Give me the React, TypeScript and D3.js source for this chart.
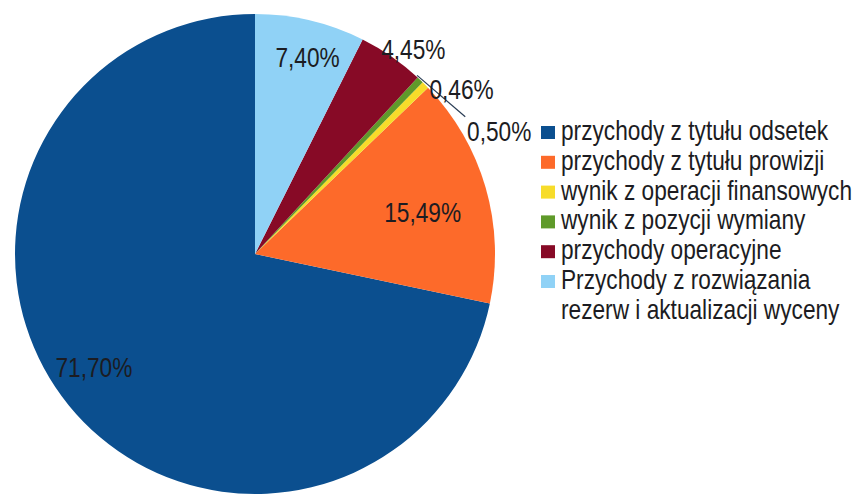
import React from "react";
import * as d3 from "d3";

const categories = [
  "przychody z tytułu odsetek",
  "przychody z tytułu prowizji",
  "wynik z operacji finansowych",
  "wynik z pozycji wymiany",
  "przychody operacyjne",
  "Przychody z rozwiązania rezerw i aktualizacji wyceny",
];
const values = [71.7, 15.49, 0.5, 0.46, 4.45, 7.4];
const colors = ["#0b4f8f", "#fd6a2a", "#f7dc2a", "#5f9a2a", "#870a26", "#90d2f6"];
const legendLines = [
  ["przychody z tytułu odsetek"],
  ["przychody z tytułu prowizji"],
  ["wynik z operacji finansowych"],
  ["wynik z pozycji wymiany"],
  ["przychody operacyjne"],
  ["Przychody z rozwiązania", "rezerw i aktualizacji wyceny"],
];

// label placement (layout, not data): radial factor and angular nudge in degrees
const labelLayout = [
  { k: 0.82, da: 4 },
  { k: 0.72, da: 2 },
  { k: 1.14, da: 18, leader: true },
  { k: 1.1, da: 8 },
  { k: 1.08, da: 3 },
  { k: 0.85, da: 1.6 },
];

const W = 860;
const H = 495;
const cx = 255;
const cy = 254;
const R = 240;
const FONT = "'Liberation Sans', Arial, sans-serif";
const FS = 28;
const SX = 0.81;

const fmt = (v: number) => d3.format(".2f")(v).replace(".", ",") + "%";

export default function App() {
  const pie = d3
    .pie<number>()
    .sort(null)
    .value((d) => d)
    .startAngle(0)
    .endAngle(-2 * Math.PI);
  const arcs = pie(values);
  const arc = d3.arc<d3.PieArcDatum<number>>().innerRadius(0).outerRadius(R);
  const polar = (a: number, r: number) => [r * Math.sin(a), -r * Math.cos(a)];

  const legendX = 541;
  const legendY0 = 140;
  const rowH = 29.8;
  let row = 0;

  return (
    <div style={{ position: "absolute", left: 0, top: 0 }}>
      <svg width={W} height={H} style={{ display: "block", background: "#fff" }}>
        <g transform={`translate(${cx},${cy})`}>
          {arcs.map((a, i) => (
            <path key={i} d={arc(a) || ""} fill={colors[i]} />
          ))}
          {arcs.map((a, i) => {
            const L = labelLayout[i];
            const mid = (a.startAngle + a.endAngle) / 2 + (L.da * Math.PI) / 180;
            const [x, y] = polar(mid, R * L.k);
            let leader = null;
            if (L.leader) {
              const m0 = (a.startAngle + a.endAngle) / 2 - (3 * Math.PI) / 180;
              const [x0, y0] = polar(m0, R * 1.005);
              const x1 = x - 34;
              const y1 = y - 14;
              leader = (
                <line x1={x0} y1={y0} x2={x1} y2={y1} stroke="#2a3d55" strokeWidth={1.2} />
              );
            }
            return (
              <g key={"l" + i}>
                {leader}
                <g transform={`translate(${x},${y}) scale(${SX},1)`}>
                  <text
                    dy="0.35em"
                    textAnchor="middle"
                    fontFamily={FONT}
                    fontSize={FS}
                    fill="#1c1c22"
                  >
                    {fmt(values[i])}
                  </text>
                </g>
              </g>
            );
          })}
        </g>
        <g>
          {categories.map((c, i) => {
            const lines = legendLines[i];
            const y = legendY0 + row * rowH;
            row += lines.length;
            return (
              <g key={"lg" + i}>
                <rect x={legendX} y={y - 14} width={14} height={13} fill={colors[i]} />
                <g transform={`translate(${legendX + 20},${y}) scale(${SX},1)`}>
                  <text fontFamily={FONT} fontSize={FS} fill="#1c1c22">
                    {lines.map((ln, j) => (
                      <tspan key={j} x={0} y={j * rowH}>
                        {ln}
                      </tspan>
                    ))}
                  </text>
                </g>
              </g>
            );
          })}
        </g>
      </svg>
    </div>
  );
}
